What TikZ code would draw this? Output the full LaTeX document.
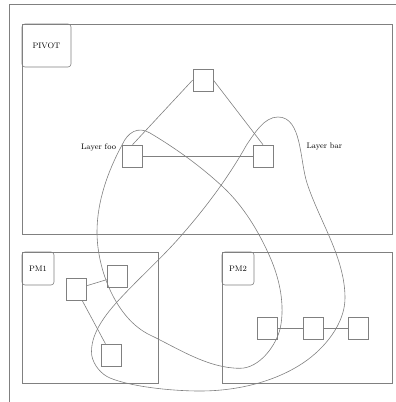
\documentclass[tikz,border=0pt]{standalone}
\usetikzlibrary{positioning,calc}
\tikzset{
  link/.style={draw=black!50, line width=0.6pt},
  clusterbox/.style={link, inner sep=0pt},
  tagbox/.style={link, rounded corners=3pt, anchor=north west, inner sep=0pt, font=\footnotesize, text=black},
  vertex/.style={link, minimum width=20pt, minimum height=22pt, inner sep=0pt},
  layertext/.style={font=\footnotesize, text=black, inner sep=0pt}
}

\begin{document}
\begin{tikzpicture}[x=1pt,y=-1pt]
\useasboundingbox (0,0) rectangle (396,402);
% page frame
\draw[link] (9,402) -- (9,4) -- (396,4);
% clusters
\node[clusterbox, minimum width=370pt, minimum height=210pt] (pivot) at (207,129) {};
\node[tagbox, minimum width=49pt, minimum height=43pt] (pivottag) at (pivot.north west) {PIVOT};
\node[clusterbox, minimum width=136pt, minimum height=131pt] (pmone) at (90,317.5) {};
\node[tagbox, minimum width=32pt, minimum height=33pt] (pmonetag) at (pmone.north west) {PM1};
\node[clusterbox, minimum width=170pt, minimum height=131pt] (pmtwo) at (307,317.5) {};
\node[tagbox, minimum width=32pt, minimum height=33pt] (pmtwotag) at (pmtwo.north west) {PM2};
% vertices
\node[vertex] (top) at (203,80) {};
\node[vertex] (foo) at (132.5,156) {};
\node[vertex] (bar) at (263,156) {};
\node[vertex] (a) at (76,289) {};
\node[vertex] (b) at (117,276.5) {};
\node[vertex] (c) at (111.5,355) {};
\node[vertex] (d) at (267.5,328) {};
\node[vertex] (e) at (313,328) {};
\node[vertex] (f) at (358,328) {};
% layer names
\node[layertext, left=6pt of foo.west, yshift=9pt] (foolbl) {Layer foo};
\node[layertext, right=33pt of bar.east, yshift=9pt] (barlbl) {Layer bar};
% straight edges
\draw[link] (top.west) -- (foo.north);
\draw[link] (top.east) -- (bar.north);
\draw[link] (foo) -- (bar);
\draw[link] (a) -- (b);
\draw[link] (a) -- (c);
\draw[link] (d) -- (e);
\draw[link] (e) -- (f);
% curved edges
\coordinate (dhook) at ([xshift=2.5pt]d.east);
\coordinate (barhook) at ([xshift=-6pt]bar.north west);
\coordinate (chook) at ([xshift=-9.5pt]c.west);
\draw[link] (foo.north west) .. controls (107.7,171.3) and (97,201.8) .. (97,232)
  .. controls (97,269.7) and (116.1,318.8) .. (150,335)
  .. controls (178.8,348.8) and (208,368.3) .. (240,368.3)
  .. controls (258.9,368.3) and (275.9,346.5) .. (dhook);
\draw[link] (dhook) .. controls (285.1,304.6) and (279.6,278.9) .. (270,257)
  .. controls (258.7,231.4) and (243.4,206) .. (223,187)
  .. controls (200.9,166.4) and (176,148.5) .. (150,133)
  .. controls (138,125.9) and (127.7,132.3) .. (foo.north west);
\draw[link] (barhook) .. controls (227.8,178.4) and (204.9,208.7) .. (180,237)
  .. controls (160.1,259.6) and (137.2,279.7) .. (117,302)
  .. controls (103.9,316.4) and (89.7,335.7) .. (chook);
\draw[link] (chook) .. controls (93.2,364.7) and (101.1,374.3) .. (110,378)
  .. controls (130.2,386.4) and (170,391) .. (200,391)
  .. controls (235.6,391) and (273.5,382.6) .. (303,363)
  .. controls (324.4,348.8) and (345,323.8) .. (345,298)
  .. controls (345,257.6) and (319.5,221.4) .. (307,183)
  .. controls (299.6,160.2) and (302,117) .. (278,117)
  .. controls (263.9,117) and (254.2,133.9) .. (barhook);
\end{tikzpicture}
\end{document}
